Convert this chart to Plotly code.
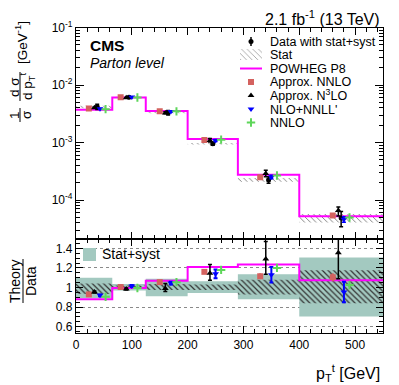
import plotly.graph_objects as go

# ---------------- data ----------------
bin_edges = [0, 65, 125, 200, 290, 400, 550]
point_x = [38, 95, 165, 245, 345, 475]          # x position of points in each bin (GeV)
data_val = [4.2e-3, 6.1e-3, 3.3e-3, 9.5e-4, 2.23e-4, 4.85e-5]   # 1/sigma dsigma/dpT [1/GeV]

# relative uncertainties of data (as ratio band)
tot_lo = [0.89, 0.97, 0.91, 0.945, 0.88, 0.705]
tot_hi = [1.10, 1.035, 1.09, 1.065, 1.135, 1.305]
stat_lo = [0.935, 0.985, 0.975, 0.975, 0.93, 0.84]
stat_hi = [1.04, 1.02, 1.035, 1.03, 1.08, 1.175]

# theory / data ratios
powheg_ratio = [0.88, 0.995, 1.07, 1.21, 1.235, 1.075]
nnlo_approx_ratio = [0.93, 1.005, 1.055, 1.16, 1.115, 1.105]
nnlo_approx_err = [0.01, 0.01, 0.01, 0.015, 0.03, 0.04]
n3lo_ratio = [0.955, 0.985, 0.99, 1.145, 1.29, 1.355]
n3lo_err_up = [0.01, 0.01, 0.05, 0.09, 0.18, 0.20]
n3lo_err_dn = [0.01, 0.01, 0.03, 0.07, 0.155, 0.265]
nlonnll_ratio = [0.92, 1.015, 1.045, 1.14, 1.13, 0.955]
nlonnll_err = [0.01, 0.01, 0.015, 0.045, 0.08, 0.105]
nnlo_ratio = [0.905, 0.995, 1.055, 1.18, 1.20, 1.025]

legend_labels = ["Data with stat+syst", "Stat", "POWHEG P8", "Approx. NNLO",
                 "Approx. N<sup>3</sup>LO", "NLO+NNLL'", "NNLO"]

# ---------------- styles ----------------
FONT = "Liberation Sans, Arial, Helvetica, sans-serif"
MAGENTA = "#ff00ff"
RED = "#d4625f"
BLUE = "#0000ff"
GREEN = "#5ed65a"
TEAL = "rgb(163,201,192)"
OFF_SQ, OFF_TRI, OFF_TRD, OFF_PLUS = -15, -5, 5, 15

# page offset (default body margin of the html page)
PM = 8
W, H = 399 - PM, 385 - PM

def shifted(off):
    return [p + off for p in point_x]

def scaled(r):
    return [a * b for a, b in zip(r, data_val)]

def band_poly(lo, hi):
    xs, ys = [], []
    for i in range(len(lo)):
        a, b = bin_edges[i], bin_edges[i + 1]
        xs += [a, b, b, a, a, None]
        ys += [lo[i], lo[i], hi[i], hi[i], lo[i], None]
    return xs, ys

steps_x = bin_edges
fig = go.Figure()

# ---------------- upper panel ----------------
sx, sy = band_poly(scaled(stat_lo), scaled(stat_hi))
fig.add_trace(go.Scatter(x=sx, y=sy, fill="toself", mode="lines", line=dict(width=0),
                         fillcolor="rgba(0,0,0,0)",
                         fillpattern=dict(shape="\\", fgcolor="#666666", bgcolor="rgba(0,0,0,0)",
                                          size=4, solidity=0.2, fillmode="replace"),
                         xaxis="x", yaxis="y", showlegend=False, hoverinfo="skip"))
pw = scaled(powheg_ratio)
fig.add_trace(go.Scatter(x=steps_x, y=pw + [pw[-1]], mode="lines", line_shape="hv",
                         line=dict(color=MAGENTA, width=2), xaxis="x", yaxis="y", showlegend=False))
fig.add_trace(go.Scatter(x=shifted(OFF_SQ), y=scaled(nnlo_approx_ratio), mode="markers",
                         marker=dict(symbol="square", size=6, color=RED),
                         error_y=dict(type="data", array=scaled(nnlo_approx_err), color=RED, thickness=1.5, width=0),
                         xaxis="x", yaxis="y", showlegend=False))
fig.add_trace(go.Scatter(x=shifted(OFF_TRI), y=scaled(n3lo_ratio), mode="markers",
                         marker=dict(symbol="triangle-up", size=6, color="black"),
                         error_y=dict(type="data", array=scaled(n3lo_err_up), arrayminus=scaled(n3lo_err_dn),
                                      color="black", thickness=1.5, width=2),
                         xaxis="x", yaxis="y", showlegend=False))
fig.add_trace(go.Scatter(x=point_x, y=data_val, mode="markers",
                         marker=dict(symbol="circle", size=5, color="black"),
                         error_y=dict(type="data",
                                      array=[d * (h - 1) for d, h in zip(data_val, tot_hi)],
                                      arrayminus=[d * (1 - l) for d, l in zip(data_val, tot_lo)],
                                      color="black", thickness=1.5, width=2),
                         xaxis="x", yaxis="y", showlegend=False))
fig.add_trace(go.Scatter(x=shifted(OFF_TRD), y=scaled(nlonnll_ratio), mode="markers",
                         marker=dict(symbol="triangle-down", size=6, color=BLUE),
                         error_y=dict(type="data", array=scaled(nlonnll_err), color=BLUE, thickness=1.5, width=2),
                         xaxis="x", yaxis="y", showlegend=False))
fig.add_trace(go.Scatter(x=shifted(OFF_PLUS), y=scaled(nnlo_ratio), mode="markers",
                         marker=dict(symbol="cross-thin", size=6, color=GREEN, line=dict(color=GREEN, width=2)),
                         xaxis="x", yaxis="y", showlegend=False))

# ---------------- lower (ratio) panel ----------------
tx, ty = band_poly(tot_lo, tot_hi)
fig.add_trace(go.Scatter(x=tx, y=ty, fill="toself", mode="lines", line=dict(width=0),
                         fillcolor=TEAL, xaxis="x2", yaxis="y2", showlegend=False, hoverinfo="skip"))
hx, hy = band_poly(stat_lo, stat_hi)
fig.add_trace(go.Scatter(x=hx, y=hy, fill="toself", mode="lines", line=dict(width=0),
                         fillcolor="rgba(0,0,0,0)",
                         fillpattern=dict(shape="\\", fgcolor="#333333", bgcolor="rgba(0,0,0,0)",
                                          size=4, solidity=0.3, fillmode="replace"),
                         xaxis="x2", yaxis="y2", showlegend=False, hoverinfo="skip"))
fig.add_trace(go.Scatter(x=steps_x, y=powheg_ratio + [powheg_ratio[-1]], mode="lines", line_shape="hv",
                         line=dict(color=MAGENTA, width=2), xaxis="x2", yaxis="y2", showlegend=False))
fig.add_trace(go.Scatter(x=shifted(OFF_SQ), y=nnlo_approx_ratio, mode="markers",
                         marker=dict(symbol="square", size=6, color=RED),
                         error_y=dict(type="data", array=nnlo_approx_err, color=RED, thickness=2, width=0),
                         xaxis="x2", yaxis="y2", showlegend=False))
fig.add_trace(go.Scatter(x=shifted(OFF_TRI), y=n3lo_ratio, mode="markers",
                         marker=dict(symbol="triangle-up", size=6, color="black"),
                         error_y=dict(type="data", array=n3lo_err_up, arrayminus=n3lo_err_dn,
                                      color="black", thickness=1.5, width=2),
                         xaxis="x2", yaxis="y2", showlegend=False))
fig.add_trace(go.Scatter(x=shifted(OFF_TRD), y=nlonnll_ratio, mode="markers",
                         marker=dict(symbol="triangle-down", size=6, color=BLUE),
                         error_y=dict(type="data", array=nlonnll_err, color=BLUE, thickness=2, width=2),
                         xaxis="x2", yaxis="y2", showlegend=False))
fig.add_trace(go.Scatter(x=shifted(OFF_PLUS), y=nnlo_ratio, mode="markers",
                         marker=dict(symbol="cross-thin", size=6, color=GREEN, line=dict(color=GREEN, width=2)),
                         xaxis="x2", yaxis="y2", showlegend=False))

# ---------------- manual legend (pixel overlay axes, page pixel coordinates) ----------------
LX, LT = 251, 268
rows = [41.5, 55, 68.5, 82, 95.5, 109, 122.5]
text_rows = [41.5, 55, 68.5, 82, 94.5, 109.5, 122.5]
fig.add_trace(go.Scatter(x=[LX], y=[rows[0]], mode="markers", marker=dict(symbol="circle", size=5, color="black"),
                         error_y=dict(type="data", array=[4.5], color="black", thickness=1.5, width=0),
                         xaxis="x3", yaxis="y3", showlegend=False))
fig.add_trace(go.Scatter(x=[240, 262, 262, 240, 240], y=[49, 49, 60, 60, 49], fill="toself", mode="lines",
                         line=dict(width=0), fillcolor="rgba(0,0,0,0)",
                         fillpattern=dict(shape="\\", fgcolor="#999999", bgcolor="rgba(0,0,0,0)",
                                          size=4, solidity=0.2, fillmode="replace"),
                         xaxis="x3", yaxis="y3", showlegend=False))
fig.add_trace(go.Scatter(x=[240, 262], y=[rows[2], rows[2]], mode="lines", line=dict(color=MAGENTA, width=2),
                         xaxis="x3", yaxis="y3", showlegend=False))
fig.add_trace(go.Scatter(x=[LX], y=[rows[3]], mode="markers", marker=dict(symbol="square", size=6, color=RED),
                         xaxis="x3", yaxis="y3", showlegend=False))
fig.add_trace(go.Scatter(x=[LX], y=[rows[4]], mode="markers", marker=dict(symbol="triangle-up", size=6, color="black"),
                         xaxis="x3", yaxis="y3", showlegend=False))
fig.add_trace(go.Scatter(x=[LX], y=[rows[5]], mode="markers", marker=dict(symbol="triangle-down", size=6, color=BLUE),
                         xaxis="x3", yaxis="y3", showlegend=False))
fig.add_trace(go.Scatter(x=[LX], y=[rows[6]], mode="markers",
                         marker=dict(symbol="cross-thin", size=6, color=GREEN, line=dict(color=GREEN, width=2)),
                         xaxis="x3", yaxis="y3", showlegend=False))

annotations = []
for lab, yy in zip(legend_labels, text_rows):
    annotations.append(dict(x=LT, y=yy, xref="x3", yref="y3", text=lab, showarrow=False,
                            xanchor="left", yanchor="middle", font=dict(size=12.5, family=FONT, color="black")))

def ann(x, y, text, size, anchor="center", angle=0, **kw):
    d = dict(x=x, y=y, xref="x3", yref="y3", text=text, showarrow=False, xanchor=anchor,
             yanchor="middle", textangle=angle, font=dict(size=size, family=FONT, color="black"))
    d.update(kw)
    annotations.append(d)

ann(382, 18, "2.1 fb<sup>-1</sup> (13 TeV)", 16, anchor="right")
ann(88, 45.5, "<b>CMS</b>", 15.5, anchor="left")
ann(88, 63, "<i>Parton level</i>", 14, anchor="left")
ann(100, 254, "Stat+syst", 14, anchor="left")
ann(382, 373, "p<sub>T</sub><sup>t</sup> [GeV]", 16, anchor="right")
# y title upper: 1/sigma dsigma/dpT [GeV^-1]
ann(14, 115, "1", 13.5, angle=-90)
ann(26, 115, "σ", 13.5, angle=-90)
ann(14, 87, "d σ", 13.5, angle=-90)
ann(27, 86, "d p<sub>T</sub><sup>t</sup>", 13.5, angle=-90)
ann(21, 43, "[GeV<sup>-1</sup>]", 13.5, angle=-90)
# y title lower: Theory / Data
ann(15, 281, "Theory", 14, angle=-90)
ann(31, 281, "Data", 14, angle=-90)

shapes = [
    dict(type="line", xref="x3", yref="y3", x0=20, x1=20, y0=108, y1=122, line=dict(color="black", width=1)),
    dict(type="line", xref="x3", yref="y3", x0=20, x1=20, y0=72, y1=101, line=dict(color="black", width=1)),
    dict(type="line", xref="x3", yref="y3", x0=23, x1=23, y0=259, y1=303, line=dict(color="black", width=1)),
    dict(type="rect", xref="x3", yref="y3", x0=83, x1=96, y0=248, y1=261, fillcolor=TEAL, line=dict(width=0)),
]

# ---------------- axes (domains from page pixel positions) ----------------
def dx(px):
    return (px - PM) / W

def dy(py):
    return 1 - (py - PM) / H

XD = [dx(76), dx(383)]
UP = [dy(239), dy(27.5)]
LO = [dy(333), dy(239)]
tickfont = dict(size=12, family=FONT, color="black")
common_x = dict(range=[0, 550], domain=XD, ticks="inside", mirror="allticks", showline=True,
                linecolor="black", linewidth=1.2, tickcolor="black", ticklen=7, tickwidth=1,
                dtick=100, tick0=0, showgrid=False, zeroline=False, tickfont=tickfont, automargin=False,
                minor=dict(ticks="inside", ticklen=4, dtick=20, tickcolor="black", showgrid=False))

major_log = [1e-4, 1e-3, 1e-2, 1e-1]
minor_log = [m * 10 ** e for e in range(-5, -1) for m in range(2, 10)]

fig.update_layout(
    template="none",
    width=W, height=H, margin=dict(l=0, r=0, t=0, b=0, autoexpand=False),
    paper_bgcolor="white", plot_bgcolor="rgba(0,0,0,0)",
    font=dict(family=FONT, color="black"),
    showlegend=False,
    xaxis=dict(common_x, anchor="y", showticklabels=False),
    yaxis=dict(type="log", range=[-4.678, -1], domain=UP, anchor="x", ticks="inside", mirror="allticks",
               showline=True, linecolor="black", linewidth=1.2, tickcolor="black", ticklen=8, automargin=False,
               tickvals=major_log, ticktext=["10<sup>-4</sup>", "10<sup>-3</sup>", "10<sup>-2</sup>", "10<sup>-1</sup>"],
               showgrid=False, zeroline=False, tickfont=tickfont,
               minor=dict(ticks="inside", ticklen=4, tickvals=minor_log, tickcolor="black", showgrid=False)),
    xaxis2=dict(common_x, anchor="y2", showticklabels=True),
    yaxis2=dict(range=[0.536, 1.495], domain=LO, anchor="x2", ticks="inside", mirror="allticks",
                showline=True, linecolor="black", linewidth=1.2, tickcolor="black", ticklen=7, automargin=False,
                tickvals=[0.6, 0.8, 1.0, 1.2, 1.4], ticktext=["0.6", "0.8", "1", "1.2", "1.4"],
                showgrid=True, gridcolor="#8a8a8a", griddash="dot", gridwidth=1, zeroline=False,
                tickfont=tickfont,
                minor=dict(ticks="inside", ticklen=4, dtick=0.05, tick0=0, tickcolor="black", showgrid=False)),
    xaxis3=dict(range=[PM, PM + W], domain=[0, 1], anchor="y3", visible=False, fixedrange=True, automargin=False),
    yaxis3=dict(range=[PM + H, PM], domain=[0, 1], anchor="x3", visible=False, fixedrange=True, automargin=False),
    annotations=annotations, shapes=shapes,
)

fig.write_html("out.html")
